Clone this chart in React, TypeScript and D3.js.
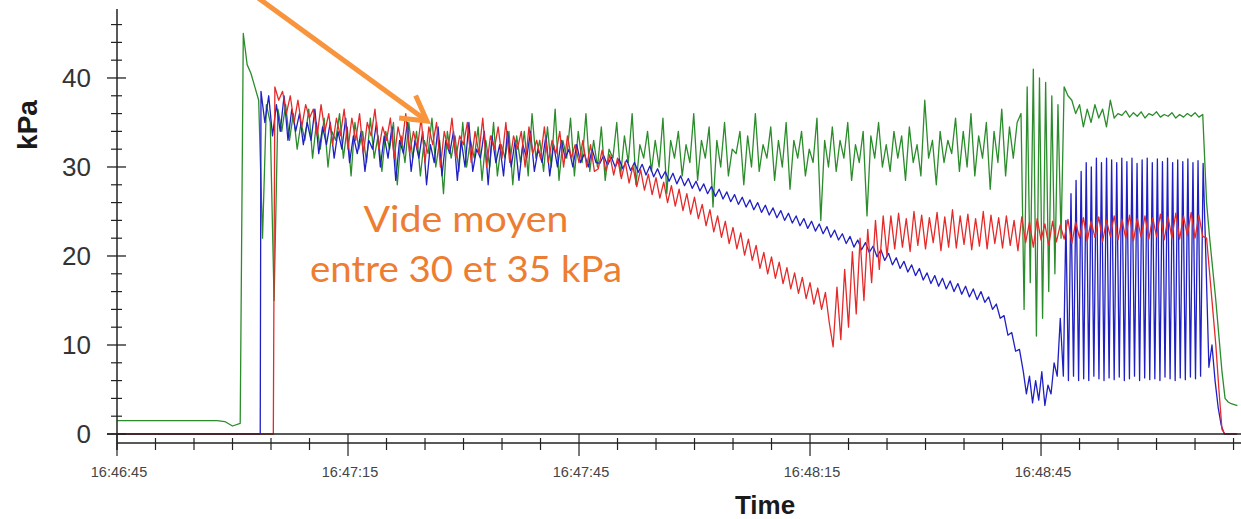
import React from 'react';
import * as d3 from 'd3';

// ---------- DATA (time in seconds after 16:46:45, values in kPa) ----------
const greenIdle = [1.5, 1.5, 1.5, 1.5, 1.5, 1.5, 1.5, 1.5, 1.5, 1.5, 1.5, 1.5, 1.5, 1.5, 1.4, 0.9, 1.2];
const greenStart = [45, 41.5, 40.5, 39, 37.5, 22, 37, 35, 15, 36.5];
const greenNoiseA = [
  34, 37, 33, 36, 32, 35, 33, 36.5, 31, 35,
  32, 35.5, 30, 34, 33, 36, 31, 34.5, 29, 35,
  32, 34, 30.5, 35.5, 31, 33.5, 29.5, 34, 32, 35,
  28, 33.5, 30.5, 35, 31, 34, 29, 33, 31.5, 35.5,
  30, 33, 27, 34, 31, 33.5, 29.5, 35, 30, 33,
  31, 34.5, 28.5, 33, 30, 35, 29, 32.5, 31, 34,
  28, 33.5, 30.5, 34, 29, 36, 31, 33, 29.5, 34.5,
  30, 36.5, 28.5, 33, 31, 35.5, 29, 34, 30.5, 36,
];
const greenNoiseB = [
  29.5, 33, 30, 34.5, 28.5, 32, 31, 35, 29, 33.5,
  30.5, 36, 28, 32.5, 31, 34, 29.5, 33, 30, 35.5,
  27, 33, 31, 34, 29, 32.5, 30.5, 36, 28.5, 33,
  31, 34.5, 25.5, 33, 30, 35, 29, 32, 31.5, 34,
  28, 33.5, 30, 36, 29.5, 32.5, 31, 34.5, 28.5, 33,
  30, 35, 27.5, 33, 31, 34, 29, 32, 30.5, 35.5,
  24, 33, 30, 34.5, 29.5, 33, 31, 35, 28.5, 32.5,
  30.5, 34, 24.5, 33.5, 31, 35, 30, 32.5, 29.5, 34,
  31, 33.5, 28.5, 34.5, 30.5, 32.5, 29, 37.5, 31, 33,
  28, 34, 30.5, 33, 31.5, 35.5, 29.5, 34, 30, 36,
  29, 33.5, 31, 35, 27.5, 34, 30.5, 36.5, 29, 34.5,
  31, 35,
];
const greenBurst = [36, 14, 39, 17, 41, 11, 40, 13, 39.5, 16, 38, 18, 37, 22];
const greenPlateau = [
  39, 38, 37.5, 36, 37, 34.5, 36.5, 35, 37, 35.5, 36.5, 34.5, 37.5, 35.5,
  36, 35.8, 36.3, 35.6, 36.1, 35.7, 36.2, 35.5, 36, 35.8, 36.2, 35.6,
  35.9, 35.7, 36.1, 35.5, 35.9, 35.6, 36, 35.7, 36.1, 35.6, 35.9,
];
const greenDrop = [26, 22, 18.5, 15, 11, 7, 4, 3.6, 3.4, 3.3, 3.2];

const blueIdle = [0, 0];
const blueNoise = [
  38.5, 35, 38, 33.5, 37, 34, 38, 33, 36.5, 34,
  36, 32.5, 35, 33, 36.5, 31.5, 34.5, 32.5, 35, 31,
  34, 32, 35.5, 30.5, 33.5, 31.5, 34, 29.5, 33, 32,
  35, 30, 33.5, 31, 34.5, 28.5, 33, 31.5, 35, 29.5,
  33, 31, 34, 28, 32.5, 30.5, 34.5, 29, 33, 31.5,
  34, 28.5, 33, 30, 35, 29.5, 32, 31, 34, 28,
  33.5, 30.5, 32.5, 29, 34, 30, 33, 28.5, 32.5, 31,
  34, 29.5, 32, 30.5, 33.5, 29, 32.5, 30, 33, 31,
  32, 30, 32.5, 30.5, 31.5, 30, 32, 30.5,
];
const blueDecline = [
  30.4, 31.3, 30.2, 31.1, 30.0, 30.9, 29.8, 30.8, 29.6, 30.5,
  29.4, 30.3, 29.1, 30.1, 28.9, 29.8, 28.7, 29.5, 28.4, 29.3,
  28.1, 29.0, 27.9, 28.7, 27.6, 28.4, 27.3, 28.1, 27.0, 27.8,
  26.7, 27.5, 26.4, 27.2, 26.1, 26.9, 25.8, 26.6, 25.5, 26.3,
  25.2, 26.0, 24.9, 25.7, 24.6, 25.4, 24.3, 25.1, 24.0, 24.8,
  23.7, 24.5, 23.4, 24.2, 23.1, 23.9, 22.8, 23.6, 22.5, 23.3,
  22.1, 22.9, 21.8, 22.5, 21.4, 22.2, 21.0, 21.8, 20.7, 21.5,
  20.4, 21.1, 19.9, 20.7, 19.5, 20.3, 19.0, 19.8, 18.6, 19.4,
  18.2, 19.0, 17.8, 18.6, 17.3, 18.1, 16.9, 17.8, 16.6, 17.5,
  16.3, 17.2, 16.0, 16.9, 15.7, 16.6, 15.4, 16.3, 15.1, 16.0,
  14.8, 15.4, 14.0, 14.6, 13.0, 13.3, 11.1, 11.4, 9.3, 9.5,
];
const blueLow = [7, 4.5, 6.5, 3.5, 6, 3.8, 7, 3.2, 5.5, 4.5, 8, 6.5, 13];
const bluePulse = [
  6.5, 24, 6, 27, 6.5, 28.5, 6, 29.5, 6.2, 30.5, 6, 30, 6.5, 31,
  6.2, 30.5, 6, 31, 6.3, 30.8, 6.1, 30.5, 6.4, 31, 6, 30.6, 6.2, 31,
  6.5, 30.4, 6, 30.8, 6.3, 31, 6.1, 30.5, 6.2, 30.9, 6, 30.6, 6.4, 31,
  6.2, 30.5, 6, 30.8, 6.3, 30.6, 6.1, 30.9, 6.4, 30.5, 6.2, 30.7, 6.5, 30.4,
];
const blueDrop = [20, 7.5, 10, 6, 3, 1, 0, 0, 0, 0, 0];

const redIdle = [0, 0];
const redNoise = [
  39, 37.5, 38.5, 36, 38, 35, 37.5, 34.5, 37, 35.5,
  36.5, 33.5, 37, 34, 36, 32.5, 35.5, 33.5, 36.5, 32,
  35.5, 33, 36, 31.5, 35, 33.5, 36.5, 32, 34.5, 33,
  35.5, 31, 34.5, 32.5, 36, 31.5, 34, 32, 35.5, 30.5,
  34.5, 32.5, 35, 30, 34, 32, 35.5, 31, 33.5, 32.5,
  35, 30.5, 34, 31.5, 35.5, 30, 33.5, 32, 34.5, 31,
  35, 30.5, 33.5, 32, 34, 30, 34.5, 31.5, 33, 31,
  34.5, 30.5, 33, 31.5, 34, 30, 33.5, 31, 32.5, 30.5,
  33, 30, 32.5, 29.5,
];
const redFall = [
  29.8, 31.9, 29.5, 31.4, 29.1, 31.0, 28.7, 30.6, 28.2, 30.1,
  27.8, 29.7, 27.4, 29.2, 26.9, 28.8, 26.5, 28.3, 26.0, 27.9,
  25.6, 27.5, 25.1, 27.0, 24.7, 26.6, 24.2, 25.8, 23.4, 25.2,
  22.7, 24.5, 22.1, 23.9, 21.4, 23.2, 20.8, 22.6, 20.1, 21.9,
  19.5, 21.2, 18.6, 20.4, 18.0, 19.9, 17.5, 19.3, 16.9, 18.7,
  16.3, 18.1, 15.8, 17.6, 15.2, 17.0, 14.6, 16.4, 14.0, 15.9,
  12.5, 9.8,
];
const redRise = [16.5, 10.6, 18.5, 12, 20.5, 13.5, 22, 15, 23, 17, 24, 18.5, 24.5, 20];
const redSteady = [
  24.5, 20.8, 24.8, 21, 24.2, 20.5, 25, 21.2, 24.6, 20.8,
  24.3, 21.5, 24.9, 20.6, 24.4, 21, 25.2, 20.9, 24.5, 21.3,
  24.7, 20.7, 24.2, 21.1, 25, 20.8, 24.6, 21.4, 24.3, 20.9,
  24.5, 21.2, 24, 20.6, 24.4, 21.5, 23.8, 21, 24.2, 21.8,
  23.6, 21.2, 23.9, 21.6, 23.5, 21.9, 24.1, 21.4, 23.8, 22,
  24.3, 21.7, 23.9, 22.1, 24.4, 21.6, 24, 22.2, 24.5, 21.8,
  24.1, 22, 24.6, 21.7, 24.2, 22.1, 24.5, 21.9, 24.3, 22.2,
  24.7, 21.8, 24.4, 22, 24.8, 21.9, 24.5, 22.3, 24.9, 22,
  24.6, 22.2,
];
const redDrop = [22, 18, 14, 10, 5, 0.5, 0, 0, 0, 0, 0];

type Seg = { start: number; step: number; values: number[] };

const greenSegments: Seg[] = [
  { start: 0, step: 1, values: greenIdle },
  { start: 16.4, step: 0.5, values: greenStart },
  { start: 21.4, step: 0.5, values: greenNoiseA },
  { start: 61.4, step: 0.5, values: greenNoiseB },
  { start: 117.4, step: 0.4, values: greenBurst },
  { start: 123.0, step: 0.5, values: greenPlateau },
  { start: 141.5, step: 0.4, values: greenDrop },
];
const blueSegments: Seg[] = [
  { start: 0, step: 18.6, values: blueIdle },
  { start: 18.7, step: 0.5, values: blueNoise },
  { start: 62.7, step: 0.5, values: blueDecline },
  { start: 117.7, step: 0.4, values: blueLow },
  { start: 122.9, step: 0.33, values: bluePulse },
  { start: 141.4, step: 0.4, values: blueDrop },
];
const redSegments: Seg[] = [
  { start: 0, step: 20.3, values: redIdle },
  { start: 20.5, step: 0.5, values: redNoise },
  { start: 62.5, step: 0.5, values: redFall },
  { start: 93.5, step: 0.5, values: redRise },
  { start: 100.5, step: 0.5, values: redSteady },
  { start: 141.5, step: 0.4, values: redDrop },
];

const seriesList = [
  { name: 'green', color: '#2b8c2b', segments: greenSegments },
  { name: 'blue', color: '#1f1fc4', segments: blueSegments },
  { name: 'red', color: '#e52a2a', segments: redSegments },
];

const yTickValues = d3.range(0, 47, 2);
const yLabelValues = [0, 10, 20, 30, 40];
const startTime = new Date(2020, 0, 1, 16, 46, 45);
const endSeconds = 145.45;

function toPoints(segs: Seg[]): [number, number][] {
  const pts: [number, number][] = [];
  let last = -Infinity;
  segs.forEach((s) => {
    s.values.forEach((v, i) => {
      const t = s.start + i * s.step;
      if (t > last) {
        pts.push([t, v]);
        last = t;
      }
    });
  });
  return pts;
}

export default function App() {
  const W = 1241;
  const H = 519;
  const x = d3
    .scaleTime()
    .domain([startTime, new Date(startTime.getTime() + endSeconds * 1000)])
    .range([117, 1237]);
  const y = d3.scaleLinear().domain([0, 47.75]).range([434, 9]);
  const tx = (t: number) => x(new Date(startTime.getTime() + t * 1000));
  const line = d3
    .line<[number, number]>()
    .x((d) => tx(d[0]))
    .y((d) => y(d[1]));

  const xTicks = x.ticks(d3.timeSecond.every(5) as any);
  const fmt = d3.timeFormat('%H:%M:%S');
  const axisColor = '#222';

  // arrow annotation geometry
  const tip = [427, 121];
  const tail = [250, -8];
  const dx = tail[0] - tip[0];
  const dy = tail[1] - tip[1];
  const len = Math.hypot(dx, dy);
  const ux = dx / len;
  const uy = dy / len;
  const a = Math.PI / 6;
  const arm = 28;
  const arm1 = [tip[0] + arm * (ux * Math.cos(a) - uy * Math.sin(a)), tip[1] + arm * (ux * Math.sin(a) + uy * Math.cos(a))];
  const arm2 = [tip[0] + arm * (ux * Math.cos(a) + uy * Math.sin(a)), tip[1] + arm * (-ux * Math.sin(a) + uy * Math.cos(a))];

  return (
    <svg
      width={W}
      height={H}
      style={{ position: 'absolute', left: 0, top: 0, background: '#fff' }}
      fontFamily="'Liberation Sans', Arial, sans-serif"
    >
      <rect x={0} y={0} width={W} height={H} fill="#fff" />
      {/* data lines */}
      <g fill="none" strokeWidth={1.3} strokeLinejoin="round">
        {seriesList.map((s) => (
          <path key={s.name} d={line(toPoints(s.segments)) || ''} stroke={s.color} />
        ))}
      </g>

      {/* y axis */}
      <line x1={117} y1={9} x2={117} y2={450} stroke={axisColor} strokeWidth={1.5} />
      {yTickValues.map((v) => {
        const major = v % 10 === 0;
        return (
          <line
            key={'yt' + v}
            x1={major ? 107 : 111}
            x2={major ? 126 : 122}
            y1={y(v)}
            y2={y(v)}
            stroke={axisColor}
            strokeWidth={major ? 1.3 : 1.2}
          />
        );
      })}
      {yLabelValues.map((v) => (
        <text key={'yl' + v} x={91} y={y(v)} dy="0.36em" textAnchor="end" fontSize={26} fill="#333">
          {v}
        </text>
      ))}
      <text
        transform="translate(37,125) rotate(-90)"
        textAnchor="middle"
        fontSize={28}
        fontWeight="bold"
        fill="#1a1a1a"
      >
        kPa
      </text>

      {/* x axis: zero line and time axis */}
      <line x1={107} y1={434} x2={W} y2={434} stroke={axisColor} strokeWidth={1.4} />
      <line x1={117} y1={443} x2={W} y2={443} stroke={axisColor} strokeWidth={1.5} />
      {xTicks.map((d) => {
        const major = d.getSeconds() % 30 === 15;
        const px = x(d);
        return (
          <g key={'xt' + d.getTime()}>
            <line x1={px} x2={px} y1={major ? 434 : 438} y2={major ? 456 : 450} stroke={axisColor} strokeWidth={1.2} />
            {major && (
              <text x={px + 2} y={477} textAnchor="middle" fontSize={14.5} fill="#444">
                {fmt(d)}
              </text>
            )}
          </g>
        );
      })}
      <text x={765} y={514} textAnchor="middle" fontSize={26} fontWeight="bold" fill="#1a1a1a">
        Time
      </text>

      {/* annotation */}
      <line x1={tail[0]} y1={tail[1]} x2={tip[0] - 2} y2={tip[1] - 1.5} stroke="#f7943c" strokeWidth={5} />
      <polyline
        points={`${arm1[0]},${arm1[1]} ${tip[0]},${tip[1]} ${arm2[0]},${arm2[1]}`}
        fill="none"
        stroke="#f7943c"
        strokeWidth={5}
        strokeLinejoin="miter"
      />
      <g fontFamily="Lato, 'Open Sans', sans-serif" fill="#ed7d31" fontSize={36}>
        <text x={466} y={232} textAnchor="middle" textLength={205} lengthAdjust="spacingAndGlyphs">
          Vide moyen
        </text>
        <text x={466} y={282} textAnchor="middle" textLength={312} lengthAdjust="spacingAndGlyphs">
          entre 30 et 35 kPa
        </text>
      </g>
    </svg>
  );
}
